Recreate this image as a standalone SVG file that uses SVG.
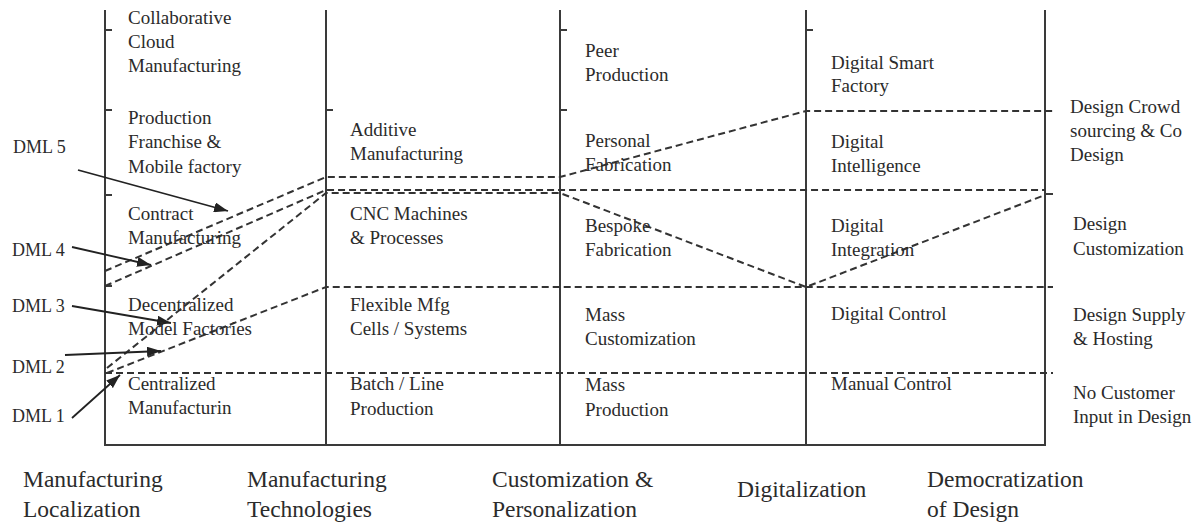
<svg xmlns="http://www.w3.org/2000/svg" width="1199" height="522" viewBox="0 0 1199 522">
<style>
.t{font-family:"Liberation Serif","Times New Roman",serif;font-size:19px;fill:#2b2b2b}
.b{font-family:"Liberation Serif","Times New Roman",serif;font-size:23.5px;fill:#2b2b2b}
.d{font-family:"Liberation Serif","Times New Roman",serif;font-size:18px;fill:#2b2b2b}
.ax{stroke:#3a3a3a;stroke-width:2;fill:none}
.ds{stroke:#333;stroke-width:2;stroke-dasharray:7,4;fill:none}
.ar{stroke:#222;stroke-width:1.8;fill:none;marker-end:url(#ah)}
</style>
<defs>
<marker id="ah" viewBox="0 0 14 10" refX="14" refY="5" markerWidth="14" markerHeight="10" markerUnits="userSpaceOnUse" orient="auto">
<path d="M0,0 L14,5 L0,10 z" fill="#222"/>
</marker>
</defs>
<rect width="1199" height="522" fill="#fff"/>
<g id="frame">
<path class="ax" d="M105,10 V445 H1045 V10"/>
<path class="ax" d="M326,10 V445 M560,10 V445 M806,10 V445"/>
<path class="ax" d="M105,30 h7 M105,110 h7 M105,195 h7 M105,286 h7 M326,110 h7 M560,30 h7 M560,110 h7 M806,30 h7 M1045,194 h8"/>
</g>
<g id="connectors">
<polyline class="ds" points="105,271 326,177 560,177 806,111 1053,111"/>
<polyline class="ds" points="105,286 326,190 1045,190"/>
<polyline class="ds" points="107,368 326,193 560,193 806,287 1045,195"/>
<polyline class="ds" points="107,373 326,287 1053,287"/>
<polyline class="ds" points="105,373 1053,373"/>
<line class="ar" x1="78" y1="170" x2="228" y2="211"/>
<line class="ar" x1="72" y1="247" x2="151" y2="265"/>
<line class="ar" x1="72" y1="306" x2="171" y2="323"/>
<line class="ar" x1="65" y1="355" x2="161" y2="351"/>
<line class="ar" x1="72" y1="418" x2="120" y2="375"/>
</g>
<g id="dml">
<text class="d" x="13" y="153">DML 5</text>
<text class="d" x="12" y="256">DML 4</text>
<text class="d" x="12" y="312">DML 3</text>
<text class="d" x="12" y="373">DML 2</text>
<text class="d" x="12" y="422">DML 1</text>
</g>
<g id="col1" class="t">
<text x="128" y="24">Collaborative</text>
<text x="128" y="48">Cloud</text>
<text x="128" y="72">Manufacturing</text>
<text x="128" y="124">Production</text>
<text x="128" y="148">Franchise &amp;</text>
<text x="128" y="173">Mobile factory</text>
<text x="128" y="220">Contract</text>
<text x="128" y="244">Manufacturing</text>
<text x="128" y="311">Decentralized</text>
<text x="128" y="335">Model Factories</text>
<text x="128" y="390">Centralized</text>
<text x="128" y="414">Manufacturin</text>
</g>
<g id="col2" class="t">
<text x="350" y="136">Additive</text>
<text x="350" y="160">Manufacturing</text>
<text x="350" y="220">CNC Machines</text>
<text x="350" y="244">&amp; Processes</text>
<text x="350" y="311">Flexible Mfg</text>
<text x="350" y="335">Cells / Systems</text>
<text x="350" y="390">Batch / Line</text>
<text x="350" y="415">Production</text>
</g>
<g id="col3" class="t">
<text x="585" y="57">Peer</text>
<text x="585" y="81">Production</text>
<text x="585" y="147">Personal</text>
<text x="585" y="171">Fabrication</text>
<text x="585" y="232">Bespoke</text>
<text x="585" y="256">Fabrication</text>
<text x="585" y="321">Mass</text>
<text x="585" y="345">Customization</text>
<text x="585" y="391">Mass</text>
<text x="585" y="416">Production</text>
</g>
<g id="col4" class="t">
<text x="831" y="69">Digital Smart</text>
<text x="831" y="92">Factory</text>
<text x="831" y="148">Digital</text>
<text x="831" y="172">Intelligence</text>
<text x="831" y="232">Digital</text>
<text x="831" y="256">Integration</text>
<text x="831" y="320">Digital Control</text>
<text x="831" y="390">Manual Control</text>
</g>
<g id="col5" class="t">
<text x="1070" y="113">Design Crowd</text>
<text x="1070" y="137">sourcing &amp; Co</text>
<text x="1070" y="161">Design</text>
<text x="1073" y="230">Design</text>
<text x="1073" y="255">Customization</text>
<text x="1073" y="321">Design Supply</text>
<text x="1073" y="345">&amp; Hosting</text>
<text x="1073" y="399">No Customer</text>
<text x="1073" y="423">Input in Design</text>
</g>
<g id="axis-labels" class="b">
<text x="23" y="487">Manufacturing</text>
<text x="23" y="517">Localization</text>
<text x="247" y="487">Manufacturing</text>
<text x="247" y="517">Technologies</text>
<text x="492" y="487">Customization &amp;</text>
<text x="492" y="517">Personalization</text>
<text x="737" y="497">Digitalization</text>
<text x="927" y="487">Democratization</text>
<text x="927" y="517">of Design</text>
</g>
</svg>
